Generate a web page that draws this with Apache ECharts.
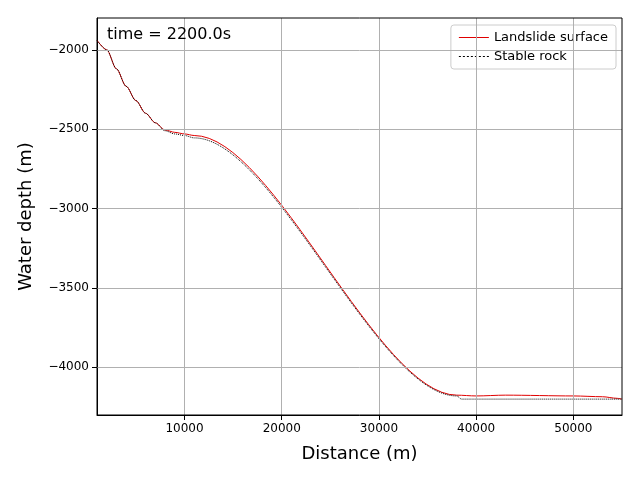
<!DOCTYPE html>
<html>
<head>
<meta charset="utf-8">
<script src="https://cdn.jsdelivr.net/npm/echarts@6/dist/echarts.min.js"></script>
</head>
<body style="margin:0;background:#fff">
<div id="main" style="width:640px;height:480px;"></div>
<script type="text/javascript">
// distance (m) and depth (m)
var slideX = [1000,2000,3000,4000,5000,6000,7000,8000,9000,10000,11000,38000,40000,43000,50000,53000,54500,55000];
var slideY = [-1940,-2000,-2120,-2230,-2320,-2400,-2460,-2505,-2520,-2530,-2540,-4175,-4180,-4175,-4180,-4185,-4195,-4200];
var rockX = [1000,2000,3000,4000,5000,6000,7000,8000,9000,10000,11000,38000,38500,55000];
var rockY = [-1940,-2000,-2120,-2230,-2320,-2400,-2460,-2510,-2530,-2540,-2555,-4180,-4200,-4200];
var xTicks = [10000,20000,30000,40000,50000];
var yTicks = [-2000,-2500,-3000,-3500,-4000];

function pairs(xs, ys){
  var out = [];
  for (var i = 0; i < xs.length; i++) out.push([xs[i], ys[i]]);
  return out;
}

var myChart = echarts.init(document.getElementById("main"));
var option = {
  animation: false,
  textStyle: {fontFamily: 'DejaVu Sans'},
  grid: {left: 97, right: 18, top: 18, bottom: 65},
  title: {text: 'time = 2200.0s', left: 102, top: 22,
    textStyle: {fontSize: 16, fontWeight: 'normal', color: '#000', fontFamily: 'DejaVu Sans'}},
  legend: {
    right: 24, top: 25, orient: 'vertical', itemWidth: 30, itemGap: 6,
    borderColor: '#ccc', borderWidth: 1, borderRadius: 3, padding: [6, 8],
    textStyle: {fontSize: 13, color: '#000'},
    data: [{name: 'Landslide surface', icon: 'path://M0,0H30V1H0Z'},
           {name: 'Stable rock', icon: 'path://M0,0H2V1H0ZM4,0H6V1H4ZM8,0H10V1H8ZM12,0H14V1H12ZM16,0H18V1H16ZM20,0H22V1H20ZM24,0H26V1H24ZM28,0H30V1H28Z'}]
  },
  xAxis: {
    type: 'value', min: 1000, max: 55000,
    name: 'Distance (m)', nameLocation: 'middle', nameGap: 30,
    nameTextStyle: {fontSize: 18, color: '#000'},
    axisLine: {show: true, onZero: false, lineStyle: {color: '#000'}},
    axisLabel: {color: '#000', fontSize: 12, customValues: xTicks, formatter: function(v){ return String(v); }},
    axisTick: {show: true, customValues: xTicks, lineStyle: {color: '#000'}},
    splitLine: {show: false}
  },
  yAxis: {
    type: 'value', min: -4300, max: -1800,
    name: 'Water depth (m)', nameLocation: 'middle', nameGap: 62,
    nameTextStyle: {fontSize: 18, color: '#000'},
    axisLine: {show: true, onZero: false, lineStyle: {color: '#000'}},
    axisTick: {show: true, customValues: yTicks, lineStyle: {color: '#000'}},
    axisLabel: {color: '#000', fontSize: 12, customValues: yTicks,
      formatter: function(v){ return String(v).replace('-', '\u2212'); }},
    splitLine: {show: false}
  },
  series: [
    {name: 'Landslide surface', type: 'line', showSymbol: false, symbol: 'none',
     smooth: 0.3, smoothMonotone: 'x',
     color: '#e00000', lineStyle: {width: 1, color: '#e00000'}, data: pairs(slideX, slideY), z: 3,
     markLine: {silent: true, symbol: 'none', label: {show: false},
       lineStyle: {color: '#b0b0b0', width: 1, type: 'solid'},
       data: [{xAxis: 10000},{xAxis: 20000},{xAxis: 30000},{xAxis: 40000},{xAxis: 50000},
              {yAxis: -2000},{yAxis: -2500},{yAxis: -3000},{yAxis: -3500},{yAxis: -4000}]}},
    {name: 'Stable rock', type: 'line', showSymbol: false, symbol: 'none',
     smooth: 0.3, smoothMonotone: 'x',
     color: '#000', lineStyle: {width: 1, color: '#000', type: [1, 1]}, data: pairs(rockX, rockY), z: 4}
  ],
  graphic: [{type: 'rect', shape: {x: 97, y: 18, width: 525, height: 397},
    style: {fill: 'none', stroke: '#000', lineWidth: 1}, silent: true, z: 10}]
};
myChart.setOption(option);
</script>
</body>
</html>
